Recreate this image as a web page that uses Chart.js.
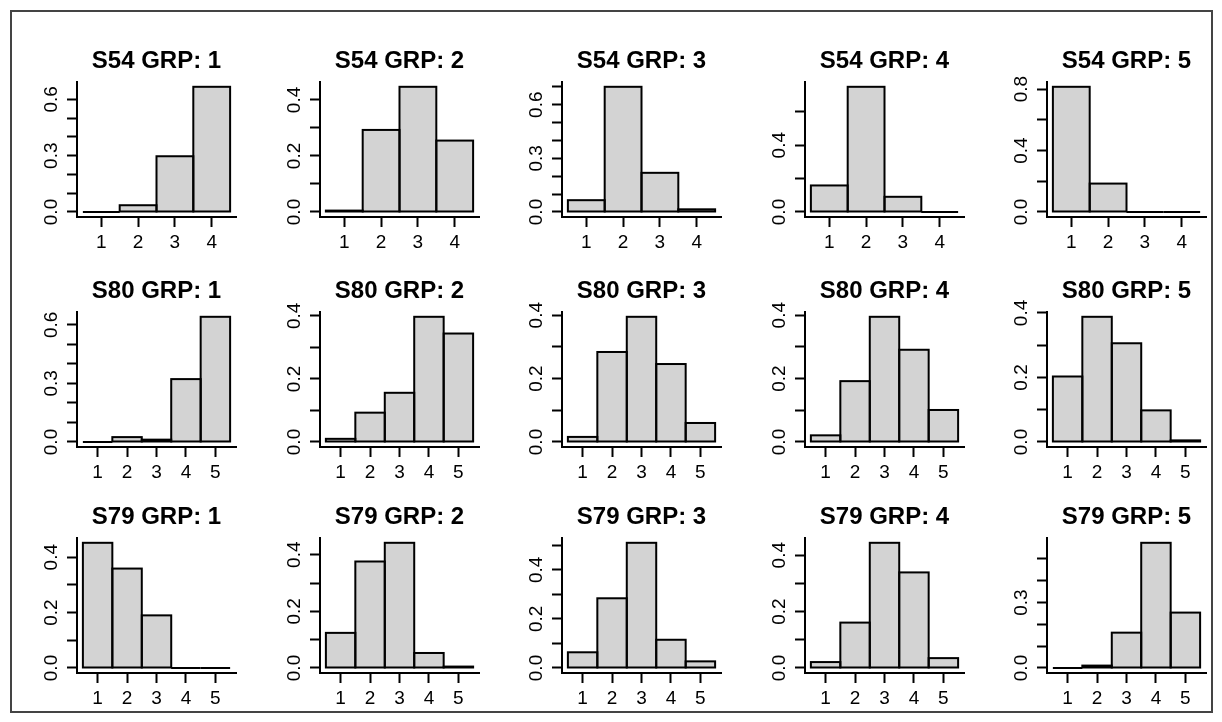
<!doctype html>
<html>
  <head>
    <meta charset="utf-8">
    <title>S54 / S80 / S79 group histograms</title>
    <style>
      html, body {
        margin: 0;
        background: #fff;
        font-family: "Liberation Sans", Arial, Helvetica, sans-serif;
      }
      #app {
        position: relative;
        width: 1222px;
        height: 722px;
        overflow: hidden;
      }
      #frame {
        position: absolute;
        left: 10px;
        top: 10px;
        width: 1199px;
        height: 699px;
        border: 2px solid #444;
      }
      #app canvas {
        position: absolute;
      }
    </style>
  </head>
  <body>
    <div id="app"><div id="frame"></div></div>

    <script src="https://cdn.jsdelivr.net/npm/chart.js@4/dist/chart.umd.min.js"></script>
    <script>
      // rows of the figure, one per station, columns are the groups
      var stations = ['S54', 'S80', 'S79']
      var groups = ['1', '2', '3', '4', '5']

      // x categories (bins) for each station
      var binsS54 = [1, 2, 3, 4]
      var binsS80 = [1, 2, 3, 4, 5]
      var binsS79 = [1, 2, 3, 4, 5]

      // proportions, one array per group
      var s54 = [
        [0.000, 0.036, 0.297, 0.667],
        [0.005, 0.293, 0.447, 0.255],
        [0.066, 0.700, 0.219, 0.015],
        [0.159, 0.750, 0.091, 0.000],
        [0.815, 0.185, 0.000, 0.000]
      ]
      var s80 = [
        [0.000, 0.025, 0.012, 0.322, 0.641],
        [0.010, 0.093, 0.156, 0.397, 0.344],
        [0.016, 0.284, 0.395, 0.246, 0.060],
        [0.021, 0.192, 0.395, 0.291, 0.101],
        [0.203, 0.388, 0.306, 0.098, 0.005]
      ]
      var s79 = [
        [0.452, 0.359, 0.190, 0.000, 0.000],
        [0.124, 0.376, 0.442, 0.053, 0.005],
        [0.064, 0.284, 0.510, 0.115, 0.027],
        [0.021, 0.161, 0.444, 0.339, 0.035],
        [0.000, 0.011, 0.162, 0.574, 0.254]
      ]

      // y tick spacing and which ticks carry a label (every n-th), per panel
      var yTickStep = [0.1, 0.1, 0.1, 0.2, 0.2,  0.1, 0.1, 0.1, 0.1, 0.1,  0.1, 0.1, 0.1, 0.1, 0.1]
      var yLabelEvery = [3, 2, 3, 2, 2,  3, 2, 2, 2, 2,  2, 2, 2, 2, 3]

      var values = [s54, s80, s79]
      var bins = [binsS54, binsS80, binsS79]

      // page layout of the plot regions
      var colLeft = [77, 319.5, 562, 804.5, 1047]
      var rowTop = [82, 312, 538]
      var plotW = 159
      var axisW = 60
      var axisH = 40
      var titleFont = 24
      var titlePad = { top: 4, bottom: 6 }
      var titleH = titleFont * 1.2 + titlePad.top + titlePad.bottom
      var plotH = 135
      var rightPad = 10
      var tickFont = 19

      var fontFamily = '"Liberation Sans", Arial, Helvetica, sans-serif'

      // R style outline of each bar (zero bars still show a line)
      var outlineBars = {
        id: 'outlineBars',
        afterDatasetsDraw: function(chart) {
          var ctx = chart.ctx
          ctx.save()
          ctx.strokeStyle = '#000'
          ctx.lineWidth = 2
          chart.getDatasetMeta(0).data.forEach(function(bar) {
            var p = bar.getProps(['x', 'y', 'base', 'width'], true)
            ctx.strokeRect(p.x - p.width / 2, p.y, p.width, p.base - p.y)
          })
          ctx.restore()
        }
      }

      var makePanel = function(r, c) {
        var panel = r * 5 + c
        var xs = bins[r]
        var ys = values[r][c]
        var n = xs.length
        var top = Math.max.apply(null, ys)
        var step = yTickStep[panel]
        var every = yLabelEvery[panel]

        var canvas = document.createElement('canvas')
        canvas.width = axisW + plotW + rightPad
        canvas.height = Math.round(titleH + plotH + axisH)
        canvas.style.left = (colLeft[c] - axisW) + 'px'
        canvas.style.top = (rowTop[r] - titleH) + 'px'
        document.getElementById('app').appendChild(canvas)

        new Chart(canvas.getContext('2d'), {
          type: 'bar',
          data: {
            datasets: [{
              data: xs.map(function(x, i) { return { x: x, y: ys[i] } }),
              backgroundColor: '#d3d3d3',
              borderWidth: 0,
              barPercentage: 1,
              categoryPercentage: 1
            }]
          },
          options: {
            responsive: false,
            animation: false,
            devicePixelRatio: 1,
            events: [],
            layout: { padding: { right: rightPad } },
            plugins: {
              legend: { display: false },
              tooltip: { enabled: false },
              title: {
                display: true,
                fullSize: false,
                text: stations[r] + ' GRP: ' + groups[c],
                color: '#000',
                font: { family: fontFamily, size: titleFont, weight: 'bold' },
                padding: titlePad
              }
            },
            scales: {
              x: {
                type: 'linear',
                offset: false,
                min: 0.5 - 0.04 * n,
                max: n + 0.5 + 0.04 * n,
                afterBuildTicks: function(scale) {
                  scale.ticks = xs.map(function(v) { return { value: v } })
                },
                afterFit: function(scale) { scale.height = axisH },
                ticks: {
                  autoSkip: false,
                  maxRotation: 0,
                  padding: 4,
                  color: '#000',
                  font: { family: fontFamily, size: tickFont },
                  callback: function(v) { return String(v) }
                },
                grid: {
                  offset: false,
                  drawOnChartArea: false,
                  tickLength: 10,
                  tickWidth: 2,
                  tickColor: '#000'
                },
                border: { display: true, color: '#000', width: 2 }
              },
              y: {
                min: -0.04 * top,
                max: 1.04 * top,
                afterBuildTicks: function(scale) {
                  var t = []
                  for (var k = 0; k * step <= top * 1.04 + 1e-9; k++) {
                    t.push({ value: Math.round(k * step * 10) / 10 })
                  }
                  scale.ticks = t
                },
                afterFit: function(scale) { scale.width = axisW },
                ticks: {
                  autoSkip: false,
                  minRotation: 90,
                  maxRotation: 90,
                  crossAlign: 'center',
                  padding: 2,
                  color: '#000',
                  font: { family: fontFamily, size: tickFont },
                  callback: function(v, i) { return i % every === 0 ? v.toFixed(1) : '' }
                },
                grid: {
                  drawOnChartArea: false,
                  tickLength: 10,
                  tickWidth: 2,
                  tickColor: '#000'
                },
                border: { display: true, color: '#000', width: 2 }
              }
            }
          },
          plugins: [outlineBars]
        })
      }

      for (var r = 0; r < 3; r++) {
        for (var c = 0; c < 5; c++) {
          makePanel(r, c)
        }
      }
    </script>
  </body>
</html>
